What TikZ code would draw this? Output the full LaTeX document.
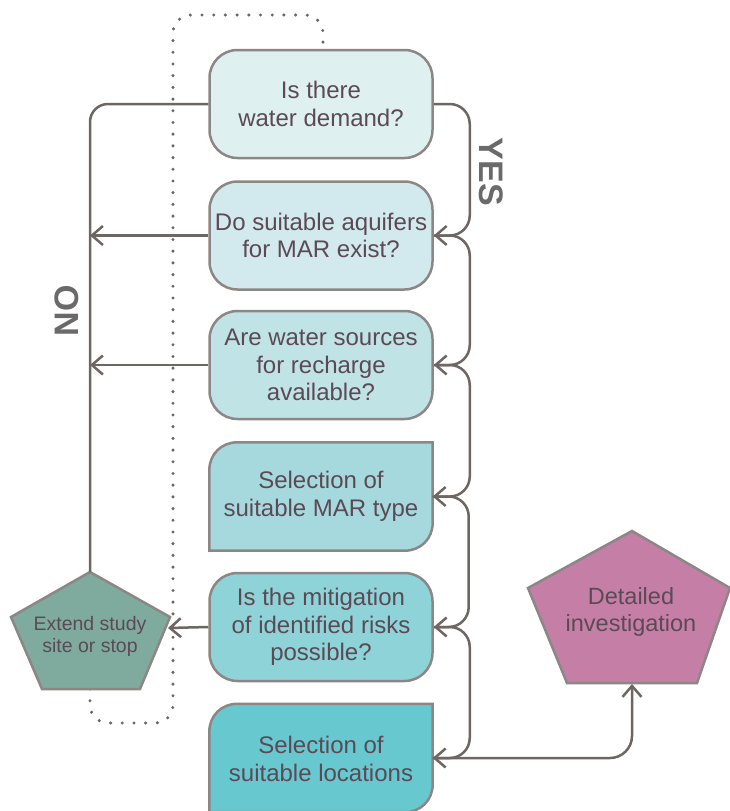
\documentclass[tikz,border=0pt]{standalone}
\usepackage{fontspec}
\setmainfont{Liberation Sans}
\usetikzlibrary{arrows.meta,calc}
\definecolor{txt}{HTML}{5B4A55}
\definecolor{edge}{HTML}{8C8784}
\definecolor{conn}{HTML}{6E6662}
\definecolor{cA}{HTML}{DFF0F1}
\definecolor{cB}{HTML}{D2E9ED}
\definecolor{cC}{HTML}{C0E3E6}
\definecolor{cD}{HTML}{A6D9DD}
\definecolor{cE}{HTML}{8DD3D8}
\definecolor{cF}{HTML}{67C8D0}
\definecolor{pG}{HTML}{7FAB9F}
\definecolor{pP}{HTML}{C57FA7}
\definecolor{lab}{HTML}{6A6A6A}
\begin{document}
\begin{tikzpicture}[x=1pt,y=-1pt,
  boxtext/.style={text=txt,align=center,font=\fontsize{24}{27.5}\selectfont,inner sep=0pt},
  qbox/.style={boxtext,draw=edge,line width=2.5pt,rounded corners=28pt,minimum width=223pt,minimum height=108pt},
  sbox/.style={boxtext,minimum width=223pt,minimum height=108pt},
  shapeline/.style={draw=edge,line width=2.5pt},
  link/.style={draw=conn,line width=2.5pt},
  tip/.style={-{Straight Barb[length=11pt,width=19pt]}},
  yn/.style={text=lab,font=\fontsize{34}{34}\selectfont\bfseries,inner sep=0pt}]
\useasboundingbox (0,0) rectangle (729,811);

% dotted loop
\coordinate (dotA) at (90,689);
\coordinate (dotB) at (323,44);
\draw[draw=conn,line width=3.4pt,line cap=round,dash pattern=on 0pt off 11.7pt,rounded corners=18pt]
  (dotA) -- (90,723) -- (173,723) -- (173,15) -- (323,15) -- (dotB);

% boxes
\node[qbox,fill=cA] (b1) at (321,104) {Is there\\water demand?};
\node[qbox,fill=cB] (b2) at (321,235.5) {Do suitable aquifers\\for MAR exist?};
\node[qbox,fill=cC] (b3) at (321,365) {Are water sources\\for recharge\\available?};
\node[sbox] (b4) at (321,496.5) {};
\path[shapeline,fill=cD] (b4.south west) -- ($(b4.north west)+(0,28)$)
  .. controls ($(b4.north west)+(0,12)$) and ($(b4.north west)+(12,0)$) .. ($(b4.north west)+(28,0)$)
  -- (b4.north east) -- ($(b4.south east)+(0,-28)$)
  .. controls ($(b4.south east)+(0,-12)$) and ($(b4.south east)+(-12,0)$) .. ($(b4.south east)+(-28,0)$)
  -- cycle;
\node[boxtext] at (b4.center) {Selection of\\suitable MAR type};
\node[qbox,fill=cE] (b5) at (321,627) {Is the mitigation\\of identified risks\\possible?};
\node[sbox] (b6) at (321,758) {};
\path[shapeline,fill=cF] (b6.south west) -- ($(b6.north west)+(0,28)$)
  .. controls ($(b6.north west)+(0,12)$) and ($(b6.north west)+(12,0)$) .. ($(b6.north west)+(28,0)$)
  -- (b6.north east) -- ($(b6.south east)+(0,-28)$)
  .. controls ($(b6.south east)+(0,-12)$) and ($(b6.south east)+(-12,0)$) .. ($(b6.south east)+(-28,0)$)
  -- cycle;
\node[boxtext] at ($(b6.center)+(0,1)$) {Selection of\\suitable locations};

% pentagon: extend study site or stop
\coordinate (exTop) at (90,572);
\coordinate (exR) at (170,617);
\coordinate (exBR) at (140,689);
\coordinate (exBL) at (42,689);
\coordinate (exL) at (11,617);
\path[shapeline,fill=pG] (exTop) -- (exR) -- (exBR) -- (exBL) -- (exL) -- cycle;
\node[text=txt,align=center,font=\fontsize{19.5}{22}\selectfont,inner sep=0pt] (ex) at (90,636) {Extend study\\site or stop};
\coordinate (exIn) at (168,628);

% pentagon: detailed investigation
\coordinate (diTop) at (632,531);
\coordinate (diR) at (730,588);
\coordinate (diBR) at (697,683);
\coordinate (diBL) at (567,683);
\coordinate (diL) at (528,588);
\path[shapeline,fill=pP] (diTop) -- (diR) -- (diBR) -- (diBL) -- (diL) -- cycle;
\node[text=txt,align=center,font=\fontsize{23.5}{26.5}\selectfont,inner sep=0pt] (di) at (631,612) {Detailed\\investigation};
\coordinate (diIn) at (632,684);

% NO side
\draw[link,rounded corners=18pt] (b1.west) -| (exTop);
\draw[link,tip] (b2.west) -- (b2.west -| exTop);
\draw[link,tip] (b3.west) -- (b3.west -| exTop);
\draw[link,tip] (b5.west) -- (exIn);

% YES side
\draw[link,tip,rounded corners=20pt] (b1.east) -- ++(36,0) |- (b2.east);
\draw[link,tip,rounded corners=20pt] (b2.east) -- ++(36,0) |- (b3.east);
\draw[link,tip,rounded corners=20pt] (b3.east) -- ++(36,0) |- (b4.east);
\draw[link,tip,rounded corners=20pt] (b4.east) -- ++(36,0) |- (b5.east);
\draw[link,tip,rounded corners=20pt] (b5.east) -- ++(36,0) |- (b6.east);
\draw[link,tip,rounded corners=22pt] (b6.east) -| (diIn);

% labels
\node[yn,rotate=-90] (yes) at (491,172) {YES};
\node[yn,rotate=90] (no) at (67,311) {NO};
\end{tikzpicture}
\end{document}
